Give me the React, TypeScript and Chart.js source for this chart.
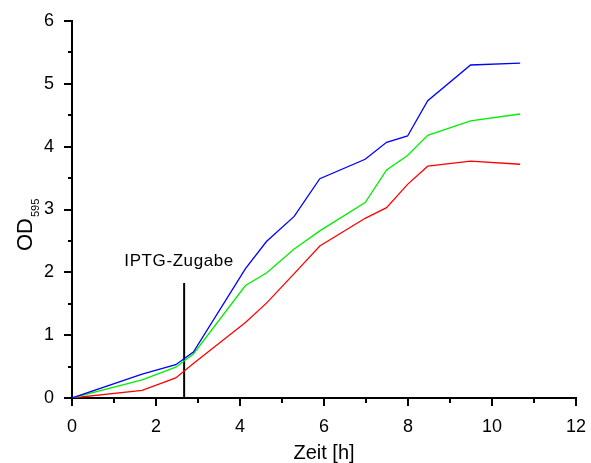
import React, { useEffect, useRef } from "react";
import { Chart, registerables } from "chart.js";

Chart.register(...registerables);

// Zeit [h]
const timeH = [0, 1.67, 2.47, 2.89, 4.13, 4.63, 5.29, 5.9, 6.98, 7.49, 7.99, 8.47, 9.49, 10.67];
// OD595 series
const blueOD = [0, 0.38, 0.53, 0.73, 2.06, 2.49, 2.89, 3.49, 3.8, 4.07, 4.17, 4.73, 5.3, 5.33];
const greenOD = [0, 0.29, 0.49, 0.7, 1.79, 1.99, 2.37, 2.66, 3.11, 3.63, 3.86, 4.18, 4.41, 4.52];
const redOD = [0, 0.12, 0.32, 0.55, 1.2, 1.51, 1.98, 2.42, 2.86, 3.03, 3.4, 3.69, 3.77, 3.72];
// IPTG marker
const iptgX = [2.67, 2.67];
const iptgY = [0, 1.83];
const iptgLabel = "IPTG-Zugabe";
const iptgLabelAt = { x: 2.55, y: 2.1 };
// axes
const xTitle = "Zeit [h]";
const yTitleMain = "OD";
const yTitleSub = "595";
const xRange = [0, 12];
const yRange = [0, 6];

const FONT = '"Liberation Sans", Arial, Helvetica, sans-serif';

const pairs = (xs: number[], ys: number[]) => xs.map((x, i) => ({ x, y: ys[i] }));

const extrasPlugin = {
  id: "extras",
  afterDraw(chart: any) {
    const { ctx, chartArea, scales } = chart;
    const xs = scales.x;
    const ys = scales.y;
    ctx.save();
    ctx.strokeStyle = "#000";
    ctx.lineWidth = 2;
    // y ticks
    for (let v = yRange[0]; v <= yRange[1] + 1e-9; v += 0.5) {
      const py = Math.round(ys.getPixelForValue(v));
      const len = Math.abs(v - Math.round(v)) < 1e-9 ? 8 : 4;
      ctx.beginPath();
      ctx.moveTo(chartArea.left, py);
      ctx.lineTo(chartArea.left - len, py);
      ctx.stroke();
    }
    // x ticks
    for (let v = xRange[0]; v <= xRange[1] + 1e-9; v += 1) {
      const px = Math.round(xs.getPixelForValue(v));
      const len = v % 2 === 0 ? 8 : 5;
      ctx.beginPath();
      ctx.moveTo(px, chartArea.bottom);
      ctx.lineTo(px, chartArea.bottom + len);
      ctx.stroke();
    }
    ctx.fillStyle = "#000";
    // IPTG label
    ctx.font = `17px ${FONT}`;
    (ctx as any).letterSpacing = "0.6px";
    ctx.textAlign = "center";
    ctx.textBaseline = "alphabetic";
    ctx.fillText(iptgLabel, xs.getPixelForValue(iptgLabelAt.x), ys.getPixelForValue(iptgLabelAt.y));
    (ctx as any).letterSpacing = "0px";
    // x title
    ctx.font = `20px ${FONT}`;
    ctx.textAlign = "center";
    ctx.fillText(xTitle, (chartArea.left + chartArea.right) / 2, 459);
    // y title with subscript
    ctx.translate(32, 251);
    ctx.rotate(-Math.PI / 2);
    ctx.textAlign = "left";
    ctx.font = `22px ${FONT}`;
    ctx.fillText(yTitleMain, 0, 0);
    const w = ctx.measureText(yTitleMain).width;
    ctx.font = `11px ${FONT}`;
    ctx.fillText(yTitleSub, w + 1, 7);
    ctx.restore();
  },
};

export default function App() {
  const ref = useRef<HTMLCanvasElement | null>(null);
  useEffect(() => {
    document.body.style.margin = "0";
    const canvas = ref.current!;
    const mk = (label: string, ys: number[], color: string, width = 1.3) => ({
      label,
      data: pairs(timeH, ys),
      borderColor: color,
      backgroundColor: color,
      borderWidth: width,
      pointRadius: 0,
      tension: 0,
      fill: false,
    });
    const chart = new Chart(canvas, {
      type: "line",
      data: {
        datasets: [
          mk("blau", blueOD, "#0000FF"),
          mk("grün", greenOD, "#00EE00"),
          mk("rot", redOD, "#FF0000"),
          {
            label: "IPTG",
            data: pairs(iptgX, iptgY),
            borderColor: "#000",
            borderWidth: 2,
            pointRadius: 0,
            fill: false,
          },
        ],
      },
      options: {
        animation: false,
        responsive: false,
        events: [],
        layout: { padding: { left: 0, right: 15, top: 21, bottom: 0 } },
        plugins: { legend: { display: false }, tooltip: { enabled: false } },
        scales: {
          x: {
            type: "linear",
            min: xRange[0],
            max: xRange[1],
            grid: { display: false },
            border: { display: true, color: "#000", width: 2 },
            ticks: {
              stepSize: 2,
              padding: 10,
              color: "#000",
              font: { family: FONT, size: 18 },
              maxRotation: 0,
            },
            afterFit: (s: any) => {
              s.height = 65;
              s.paddingLeft = 0;
              s.paddingRight = 0;
            },
          },
          y: {
            min: yRange[0],
            max: yRange[1],
            grid: { display: false },
            border: { display: true, color: "#000", width: 2 },
            ticks: {
              stepSize: 1,
              padding: 10,
              color: "#000",
              font: { family: FONT, size: 18 },
            },
            afterFit: (s: any) => {
              s.width = 72;
              s.paddingTop = 0;
              s.paddingBottom = 0;
            },
          },
        },
      },
      plugins: [extrasPlugin],
    } as any);
    return () => chart.destroy();
  }, []);
  return (
    <div style={{ width: 591, height: 463 }}>
      <canvas ref={ref} width={591} height={463} style={{ display: "block" }} />
    </div>
  );
}
